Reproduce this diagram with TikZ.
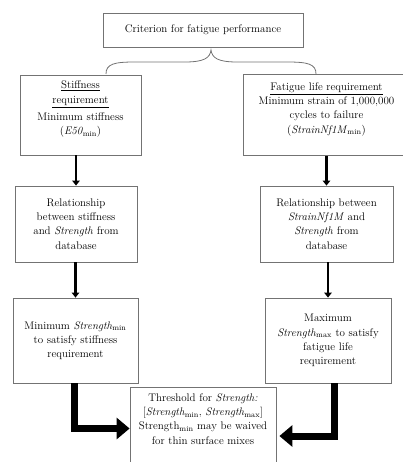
\documentclass[tikz,border=0pt]{standalone}
\usepackage{amsmath, tikz, xcolor}
\usetikzlibrary{arrows.meta}

\begin{document}
\begin{tikzpicture}[x=1pt,y=-1pt,font=\fontsize{11}{14.3}\selectfont,
    box/.style={draw=black!55,line width=0.8pt,align=center,inner sep=1pt},
    arr/.style={-{Triangle[length=5pt,width=7.5pt]},line width=2.8pt},
    bigarr/.style={-{Triangle[length=13pt,width=21pt]},line width=7pt}]
    \useasboundingbox (0,0) rectangle (403,462);
    \clip (0,0) rectangle (403,462);
    \node [box,minimum width=200pt,minimum height=34pt] (top) at (203,30) {Criterion for fatigue performance};
    \node [box,minimum width=121pt,minimum height=80pt] (L1) at (80.5,115)
        {\underline{Stiffness}\\ \underline{requirement}\\[3pt] Minimum stiffness\\ (\textit{E50}\textsubscript{min})\\ \mbox{}};
    \node [box,minimum width=167pt,minimum height=81pt] (R1) at (326.5,115)
        {\underline{Fatigue life requirement}\\ Minimum strain of 1,000,000\\ cycles to failure\\ (\textit{StrainNf1M}\textsubscript{min})\\ \mbox{}};
    \node [box,minimum width=122pt,minimum height=76pt] (L2) at (76,224)
        {Relationship\\ between stiffness\\ and \textit{Strength} from\\ database};
    \node [box,minimum width=133pt,minimum height=76pt] (R2) at (326.5,224)
        {Relationship between\\ \textit{StrainNf1M} and\\ \textit{Strength} from\\ database};
    \node [box,minimum width=125pt,minimum height=85pt] (L3) at (75.5,340.5)
        {Minimum \textit{Strength}\textsubscript{min}\\ to satisfy stiffness\\ requirement};
    \node [box,minimum width=126pt,minimum height=85pt] (R3) at (328,340.5)
        {Maximum\\ \textit{Strength}\textsubscript{max} to satisfy\\ fatigue life\\ requirement};
    \node [box,minimum width=146pt,minimum height=83pt] (B) at (203,428.5)
        {Threshold for \textit{Strength:}\\ {[}\textit{Strength}\textsubscript{min}, \textit{Strength}\textsubscript{max}{]}\\ Strength\textsubscript{min} may be waived\\ for thin surface mixes\\[5pt] \mbox{}};
    \coordinate (bl) at (106,74);
    \coordinate (tip) at (211,50);
    \coordinate (br) at (316,74);
    \draw [black!55,line width=0.8pt] (bl) .. controls (106,64) and (114,62) .. (135,62) -- (185,62)
        .. controls (204,62) and (210,58) .. (tip) .. controls (212,58) and (218,62) .. (237,62)
        -- (287,62) .. controls (308,62) and (316,64) .. (br);
    \foreach \a/\b in {L1/L2,L2/L3,R1/R2,R2/R3}
    \draw [arr] (\a.south -| \b.north) -- (\b.north);
    \draw [bigarr] ([xshift=-1.5pt]L3.south) |- (B.west);
    \draw [bigarr] ([xshift=6.5pt]R3.south) |- ([shift={(3pt,-7.5pt)}]B.east);
\end{tikzpicture}
\end{document}
